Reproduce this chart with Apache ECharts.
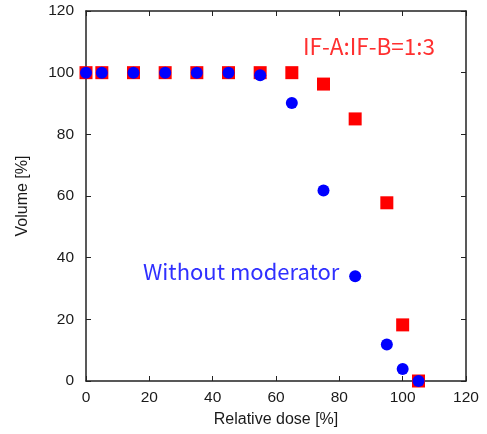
<!DOCTYPE html>
<html><head><meta charset="utf-8">
<script src="https://cdn.jsdelivr.net/npm/echarts@6/dist/echarts.min.js"></script>
<style>html,body{margin:0;padding:0;background:#fff}#c{width:487px;height:434px}</style>
</head><body><div id="c"></div>
<script>
const doses = [0, 5, 15, 25, 35, 45, 55, 65, 75, 85, 95, 100, 105];
const volIFmix = [100, 100, 100, 100, 100, 100, 100, 100, 96.3, 85, 57.8, 18.2, 0];
const volNoMod = [100, 100, 100, 100, 100, 100, 99.2, 90.2, 61.8, 34, 11.8, 3.9, 0];
const xTicks = [0, 20, 40, 60, 80, 100, 120];
const yTicks = [0, 20, 40, 60, 80, 100, 120];

const chart = echarts.init(document.getElementById('c'));
const axisCommon = {
  min: 0, max: 120, interval: 20,
  axisLine: {show: true, onZero: false, lineStyle: {color: '#222', width: 1.5}},
  axisTick: {show: true, inside: true, length: 5, lineStyle: {color: '#222', width: 1}},
  splitLine: {show: false}
};
chart.setOption({
  animation: false,
  grid: {left: 86, right: 21, top: 11, bottom: 53},
  xAxis: [
    Object.assign({}, axisCommon, {type: 'value', position: 'bottom',
      name: 'Relative dose [%]', nameLocation: 'middle', nameGap: 31,
      nameTextStyle: {fontSize: 16, color: '#1a1a1a', fontFamily: 'Liberation Sans'},
      axisLabel: {fontSize: 15.5, color: '#1a1a1a', margin: 9, fontFamily: 'Liberation Sans',
        formatter: v => xTicks.includes(v) ? String(v) : ''}}),
    Object.assign({}, axisCommon, {type: 'value', position: 'top', axisLabel: {show: false}})
  ],
  yAxis: [
    Object.assign({}, axisCommon, {type: 'value', position: 'left',
      name: 'Volume [%]', nameLocation: 'middle', nameGap: 55,
      nameTextStyle: {fontSize: 16, color: '#1a1a1a', fontFamily: 'Liberation Sans'},
      axisLabel: {fontSize: 15.5, color: '#1a1a1a', margin: 12, fontFamily: 'Liberation Sans',
        formatter: v => yTicks.includes(v) ? String(v) : ''}}),
    Object.assign({}, axisCommon, {type: 'value', position: 'right', axisLabel: {show: false}})
  ],
  series: [
    {type: 'scatter', name: 'IF-A:IF-B=1:3', symbol: 'rect', symbolSize: 13,
      itemStyle: {color: '#ff0000', opacity: 1}, data: doses.map((d, i) => [d, volIFmix[i]]), z: 2},
    {type: 'scatter', name: 'Without moderator', symbol: 'circle', symbolSize: 12,
      itemStyle: {color: '#0000ff', opacity: 1}, data: doses.map((d, i) => [d, volNoMod[i]]), z: 3}
  ],
  graphic: [
    {type: 'text', left: 303, top: 35, style: {text: 'IF-A:IF-B=1:3', fill: '#ff3030',
      font: '22.5px "Noto Sans CJK JP"'}},
    {type: 'text', left: 143, top: 261, style: {text: 'Without moderator', fill: '#3030ff',
      font: '22px "Noto Sans CJK JP"'}}
  ]
});
</script></body></html>
